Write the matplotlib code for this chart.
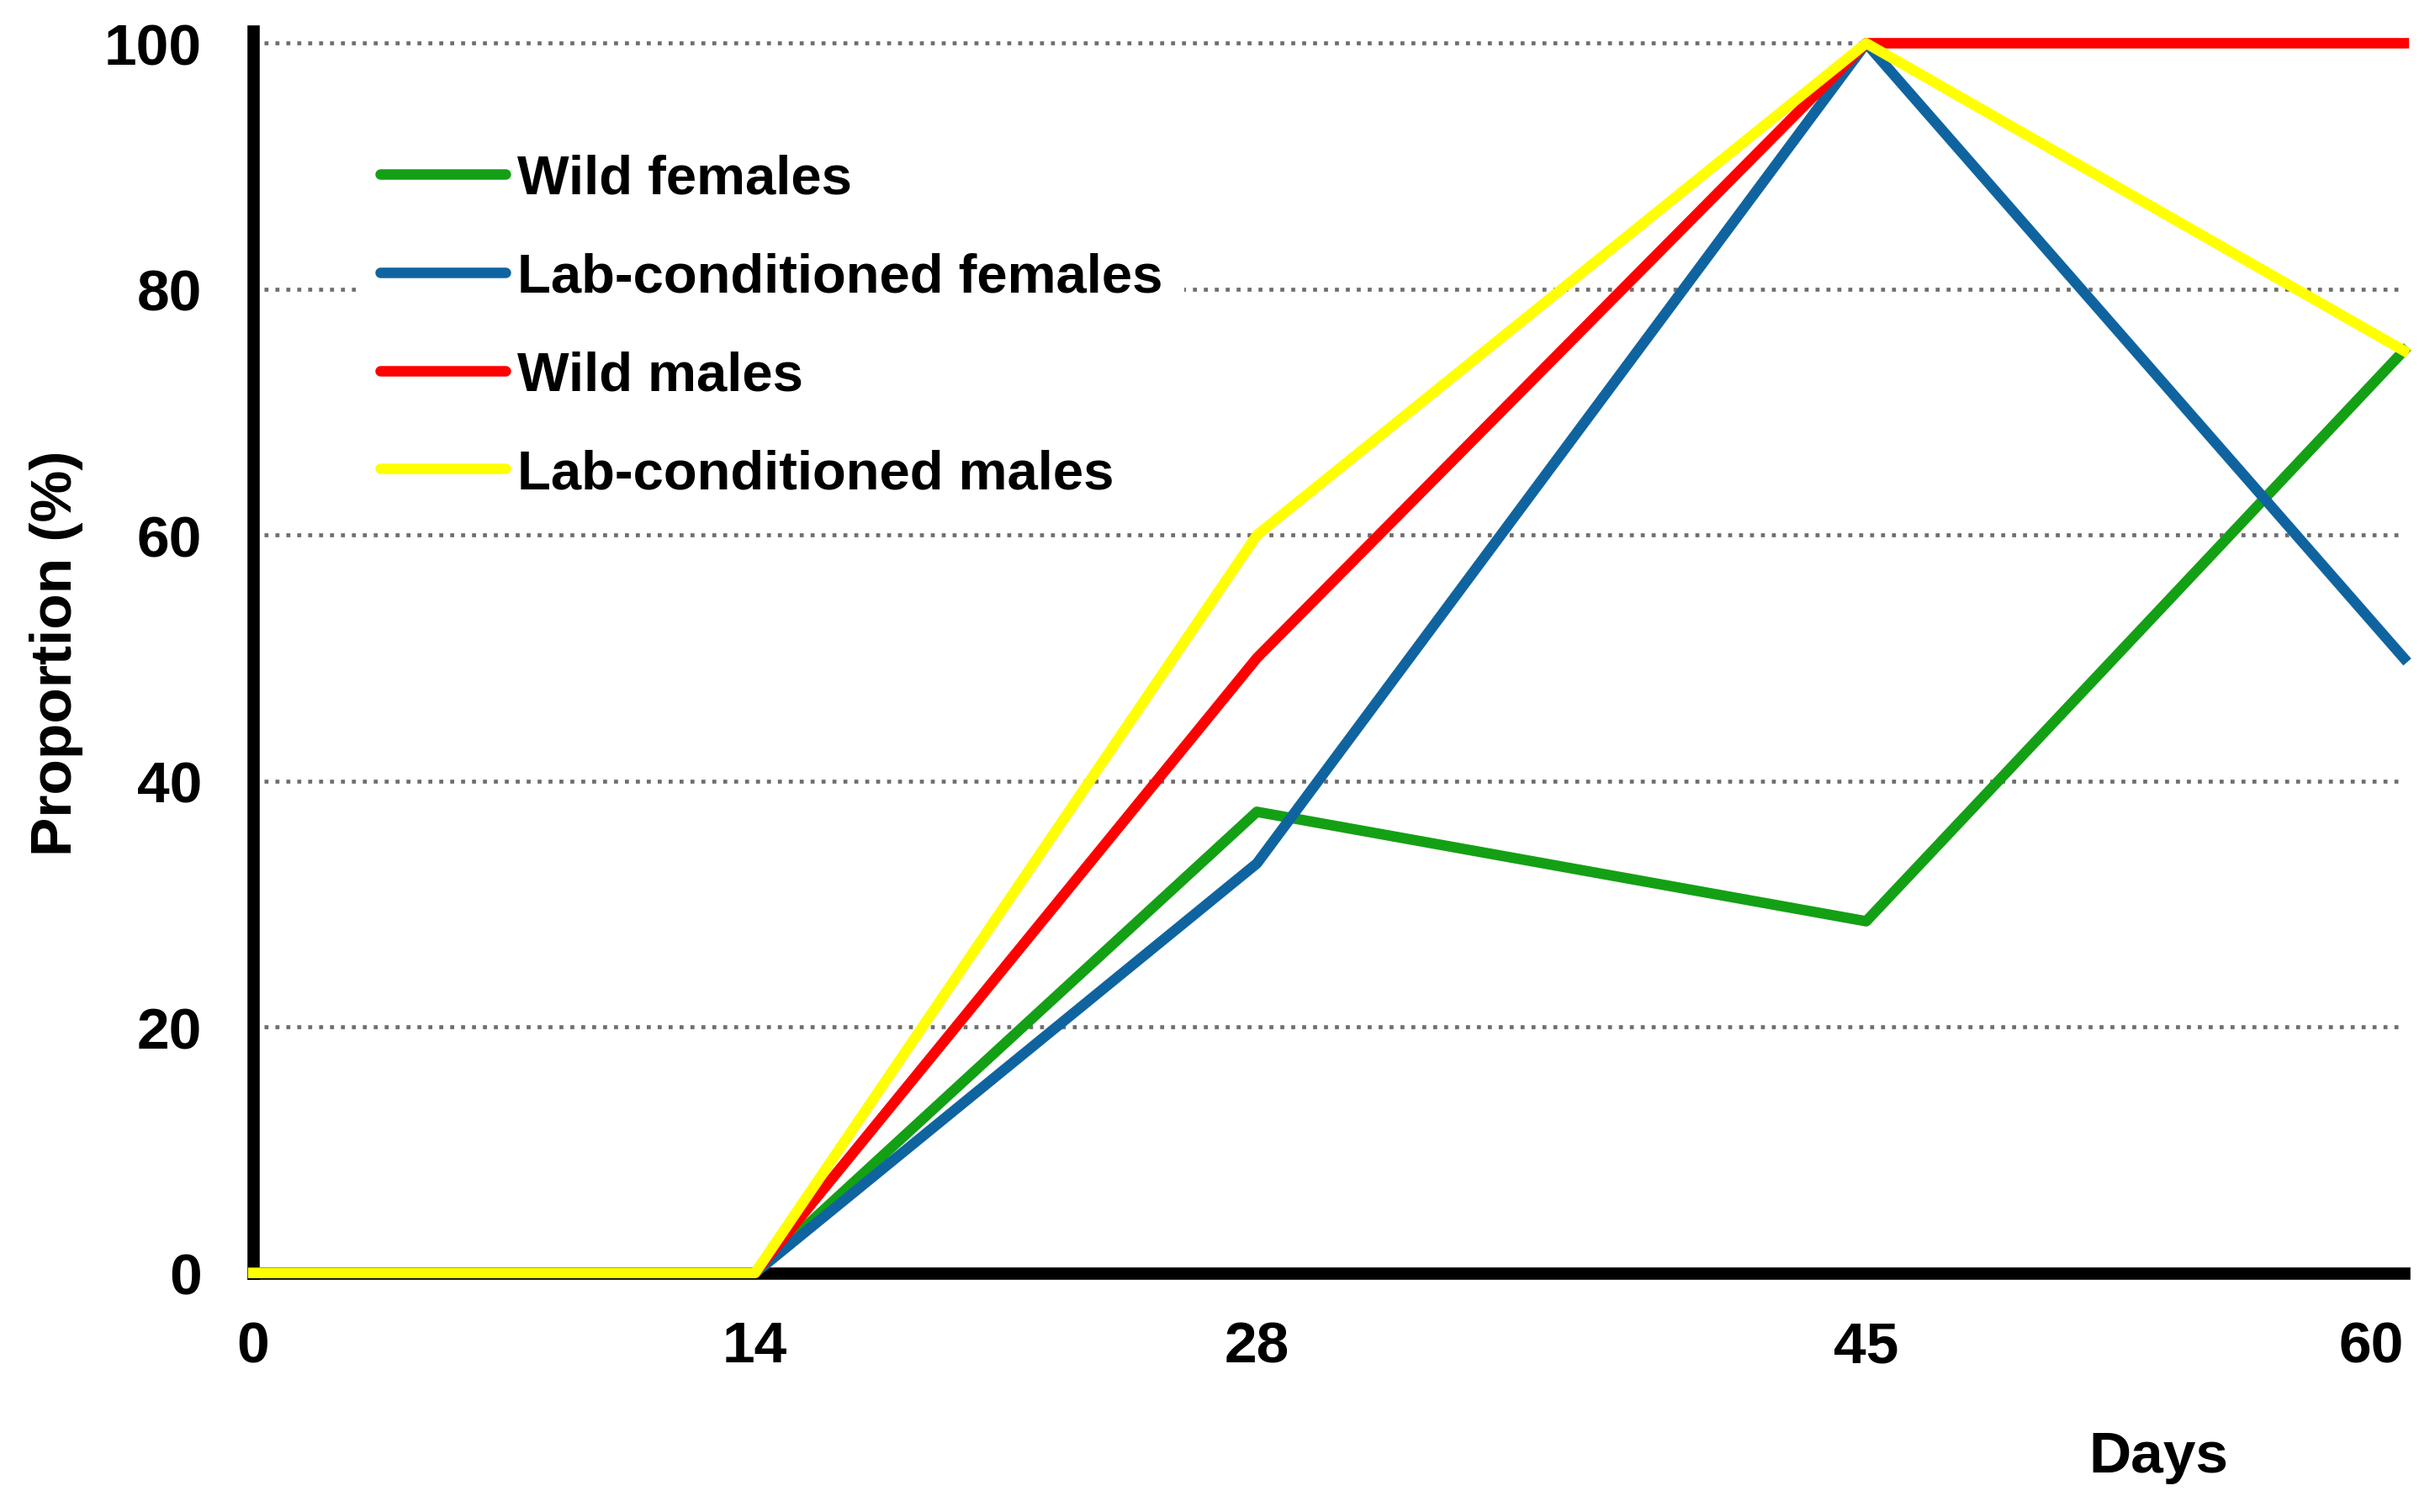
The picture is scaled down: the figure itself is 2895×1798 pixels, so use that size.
import matplotlib
matplotlib.use("Agg")
import matplotlib.pyplot as plt
from matplotlib.lines import Line2D

# Data
days = [0, 14, 28, 45, 60]
wild_females = [0, 0, 37.5, 28.6, 75]
lab_females = [0, 0, 33.3, 100, 50]
wild_males = [0, 0, 50, 100, 100]
lab_males = [0, 0, 60, 100, 75]

labels = ["Wild females", "Lab-conditioned females", "Wild males", "Lab-conditioned males"]
colors = ["#14A014", "#0F64A0", "#FF0000", "#FFFF00"]
series = [wild_females, lab_females, wild_males, lab_males]

yticks = [0, 20, 40, 60, 80, 100]

plt.rcParams['font.family'] = ['Liberation Sans', 'DejaVu Sans']
plt.rcParams['font.weight'] = 'bold'

fig = plt.figure(figsize=(28.95, 17.99), dpi=100)
ax = fig.add_axes([0.104, 0.158, 0.8832, 0.821])

for vals, col, lab in zip(series, colors, labels):
    ax.plot(days, vals, color=col, lw=9, label=lab, zorder=3, clip_on=False,
            solid_joinstyle='round')

ax.set_xlim(0, 60)
ax.set_ylim(0, 101)
ax.set_xticks(days)
ax.set_yticks(yticks)
ax.tick_params(axis='both', length=0, labelsize=50)
ax.tick_params(axis='x', pad=40)
ax.tick_params(axis='y', pad=44)
for t in ax.get_xticklabels() + ax.get_yticklabels():
    t.set_fontweight('bold')
# last day label sits flush with the end of the axis
ax.get_xticklabels()[-1].set_horizontalalignment('right')
ax.get_xticklabels()[-1].set_x(60)

for side in ['top', 'right']:
    ax.spines[side].set_visible(False)
for side in ['left', 'bottom']:
    ax.spines[side].set_linewidth(10.5)
    ax.spines[side].set_color('black')

# dotted horizontal gridlines
for y in yticks[1:]:
    ax.axhline(y, color='#6E6E6E', lw=3.4, linestyle=(0, (1, 1.75)), zorder=1)

ax.set_ylabel('Proportion (%)', fontsize=50, fontweight='bold')
ax.yaxis.set_label_coords(-0.079, 0.5)
ax.set_xlabel('Days', fontsize=50, fontweight='bold')
ax.xaxis.set_label_coords(0.886, -0.126)

handles = [Line2D([0], [0], color=c, lw=9, solid_capstyle='round') for c in colors]
leg = ax.legend(handles, labels, loc='upper left', bbox_to_anchor=(0.0489, 0.9187),
                borderaxespad=0, fontsize=47, frameon=True, framealpha=1,
                edgecolor='none', facecolor='white', handlelength=2.28,
                handletextpad=0.21, labelspacing=0.87, borderpad=0.4)
for t in leg.get_texts():
    t.set_fontweight('bold')

fig.savefig('out.png', dpi=100, facecolor='white')
